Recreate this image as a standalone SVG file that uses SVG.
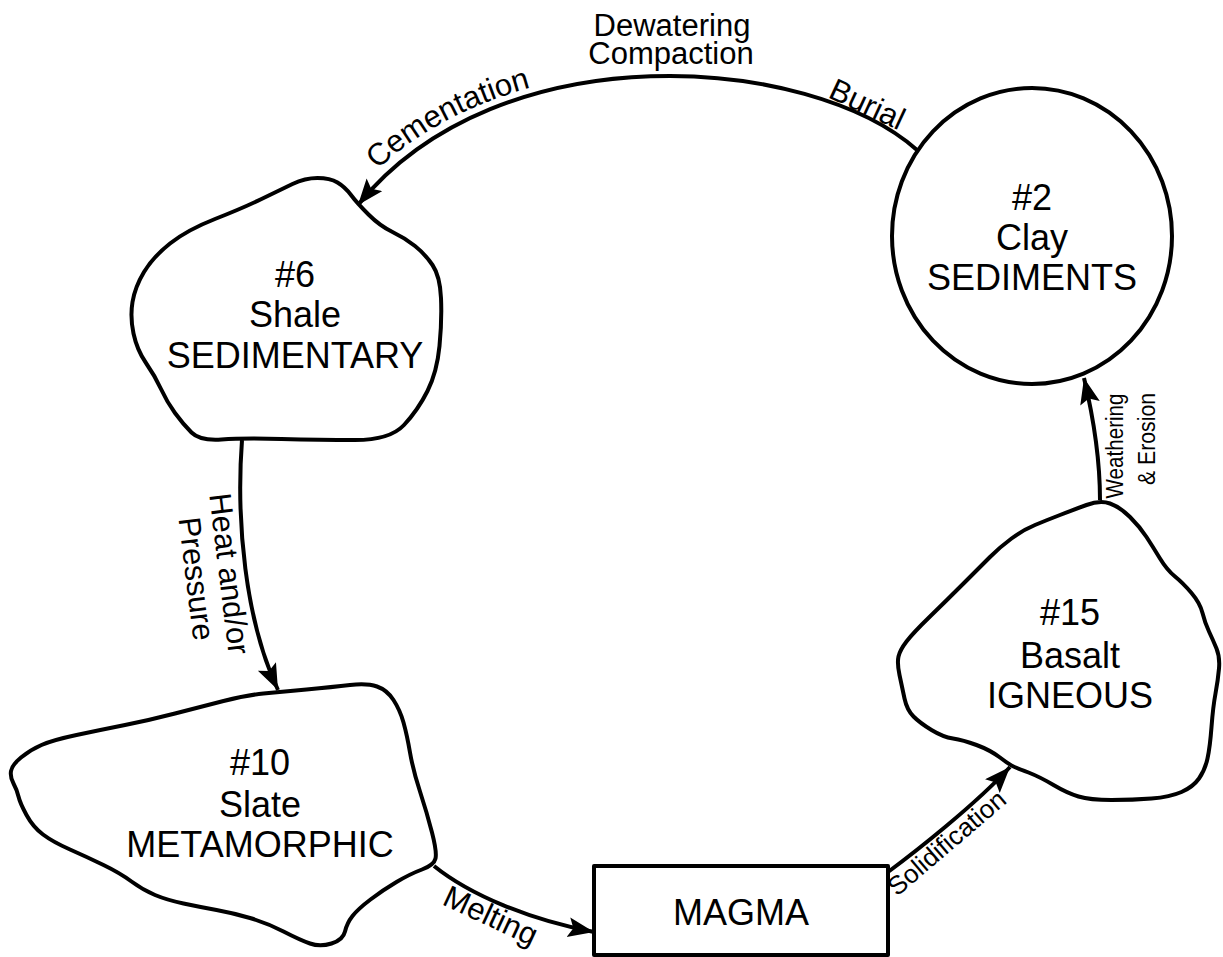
<svg xmlns="http://www.w3.org/2000/svg" width="1223" height="957" viewBox="0 0 1223 957">
<style>
.shape{fill:none;stroke:#000;stroke-width:4;stroke-linejoin:round}
.conn{fill:none;stroke:#000;stroke-width:4}
.name{font-family:"Liberation Sans",Arial,sans-serif;font-size:36px;fill:#000;text-anchor:middle}
.lbl{font-family:"Liberation Sans",Arial,sans-serif;font-size:31px;fill:#000}
</style>
<defs>
<marker id="arr" markerUnits="userSpaceOnUse" markerWidth="28" markerHeight="22" refX="26" refY="10" orient="auto">
<path d="M0,0 L26,10 L0,20 L5,10 Z" fill="#000"/>
</marker>
<path id="cemPath" d="M350,199 C492,24 817,48 924,143"/>
</defs>
<rect width="1223" height="957" fill="#fff"/>

<g id="connectors">
<path class="conn" d="M917,150 C810,55 500,30 358,205" marker-end="url(#arr)"/>
<path class="conn" d="M242,440 C236,520 245,620 278,690" marker-end="url(#arr)"/>
<path class="conn" d="M434,866 C470,895 530,920 594,932" marker-end="url(#arr)"/>
<path class="conn" d="M888,872 C915,852 975,805 1010,767" marker-end="url(#arr)"/>
<path class="conn" d="M1100,500 C1100,460 1094,420 1084,378" marker-end="url(#arr)"/>
<text class="lbl" text-anchor="middle" x="672" y="36">Dewatering</text>
<text class="lbl" text-anchor="middle" x="671" y="64">Compaction</text>
<text class="lbl"><textPath href="#cemPath" startOffset="40">Cementation</textPath></text>
<text class="lbl" transform="translate(827,97) rotate(25)">Burial</text>
<text class="lbl" text-anchor="middle" transform="translate(219,575) rotate(83)">Heat and/or</text>
<text class="lbl" text-anchor="middle" transform="translate(186,580) rotate(83)">Pressure</text>
<text class="lbl" transform="translate(441,904) rotate(25)">Melting</text>
<text class="lbl" style="font-size:26px" transform="translate(897,897) rotate(-40.5)">Solidification</text>
<text class="lbl" style="font-size:23px" text-anchor="middle" textLength="105" lengthAdjust="spacingAndGlyphs" transform="translate(1123,446) rotate(-90)">Weathering</text>
<text class="lbl" style="font-size:23px" text-anchor="middle" textLength="92" lengthAdjust="spacingAndGlyphs" transform="translate(1155,439) rotate(-90)">&amp; Erosion</text>
</g>

<g id="clay">
<ellipse class="shape" cx="1032" cy="236" rx="140" ry="148"/>
<text class="name" x="1032" y="210">#2</text>
<text class="name" x="1032" y="250">Clay</text>
<text class="name" x="1032" y="290">SEDIMENTS</text>
</g>

<g id="shale">
<path class="shape" d="M292.5,184 Q305,178 317.5,178 Q330,178 337.5,182.5 Q345,187 351,195 Q357,203 368.5,214.5 Q380,226 392.5,232 Q405,238 415,246 Q425,254 432.5,265 Q440,276 441,298 Q442,320 439.5,346 Q437,372 427.5,391 Q418,410 404,425 Q390,440 355,440 Q320,440 281.5,439 Q243,438 221.5,439.5 Q200,441 191.5,432.5 Q183,424 175,413 Q167,402 161,389 Q155,376 146,363 Q137,350 133.5,333.5 Q130,317 132.5,302 Q135,287 144,272 Q153,257 170,243.5 Q187,230 215,219 Q243,208 261.5,199 Q280,190 292.5,184 Z"/>
<text class="name" x="295" y="287">#6</text>
<text class="name" x="295" y="327">Shale</text>
<text class="name" x="295" y="368">SEDIMENTARY</text>
</g>

<g id="slate">
<path class="shape" d="M223.5,701 Q247,695 263.5,693.5 Q280,692 306.5,689.5 Q333,687 350,685 Q367,683 377,686.5 Q387,690 393.5,700 Q400,710 403.5,722.5 Q407,735 410,752.5 Q413,770 420,791.5 Q427,813 432,832.5 Q437,852 435.5,858.5 Q434,865 422,869.5 Q410,874 396.5,882 Q383,890 370.5,899.5 Q358,909 352.5,916 Q347,923 345,931.5 Q343,940 331.5,943.5 Q320,947 310,943.5 Q300,940 283.5,931.5 Q267,923 250,918 Q233,913 216.5,910 Q200,907 183.5,903.5 Q167,900 155,895 Q143,890 131.5,881.5 Q120,873 103.5,865 Q87,857 70,849.5 Q53,842 43,834.5 Q33,827 26.5,815 Q20,803 18.5,796.5 Q17,790 13.5,783.5 Q10,777 11,771 Q12,765 21,757.5 Q30,750 41.5,745 Q53,740 76.5,735 Q100,730 125,725 Q150,720 175,713.5 Q200,707 223.5,701 Z"/>
<text class="name" x="260" y="775">#10</text>
<text class="name" x="260" y="817">Slate</text>
<text class="name" x="260" y="857">METAMORPHIC</text>
</g>

<g id="magma">
<rect class="shape" x="594" y="866" width="294" height="89"/>
<text class="name" x="741" y="925">MAGMA</text>
</g>

<g id="basalt">
<path class="shape" d="M1086.5,505 Q1100,500 1110,503.5 Q1120,507 1130,517 Q1140,527 1146.5,537 Q1153,547 1160,558.5 Q1167,570 1175,576.5 Q1183,583 1191.5,593 Q1200,603 1202.5,613 Q1205,623 1209,631.5 Q1213,640 1216.5,648.5 Q1220,657 1219,668.5 Q1218,680 1215.5,693.5 Q1213,707 1211.5,727 Q1210,747 1207.5,758.5 Q1205,770 1199,778.5 Q1193,787 1181.5,792 Q1170,797 1151.5,798.5 Q1133,800 1111.5,800 Q1090,800 1078.5,796.5 Q1067,793 1053.5,785 Q1040,777 1028.5,772.5 Q1017,768 1013.5,766.5 Q1010,765 1000,757.5 Q990,750 976.5,745 Q963,740 953,738.5 Q943,737 931.5,730 Q920,723 913.5,716.5 Q907,710 904.5,698.5 Q902,687 899.5,675 Q897,663 898.5,656.5 Q900,650 906.5,641.5 Q913,633 930,616.5 Q947,600 963.5,583.5 Q980,567 990,557 Q1000,547 1011.5,538.5 Q1023,530 1035,525 Q1047,520 1060,515 Q1073,510 1086.5,505 Z"/>
<text class="name" x="1070" y="625">#15</text>
<text class="name" x="1070" y="668">Basalt</text>
<text class="name" x="1070" y="708">IGNEOUS</text>
</g>
</svg>
